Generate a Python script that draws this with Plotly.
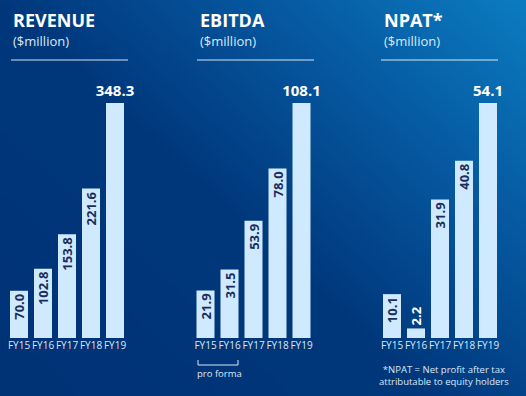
import base64, struct, zlib
import plotly.graph_objects as go

# ---------------- data ----------------
years = ["FY15", "FY16", "FY17", "FY18", "FY19"]
revenue = [70.0, 102.8, 153.8, 221.6, 348.3]
ebitda = [21.9, 31.5, 53.9, 78.0, 108.1]
npat = [10.1, 2.2, 31.9, 40.8, 54.1]
titles = ["REVENUE", "EBITDA", "NPAT*"]
unit_label = "($million)"
proforma_note = "pro forma"
npat_note = "*NPAT = Net profit after tax<br>attributable to equity holders"

W, H = 526, 396
FONT = "Open Sans"
BAR = "#cfeaff"
INTXT = "#1b2d5a"
LIGHT = "#dbe8f6"


def px(x):
    return x / W


def py(y):
    return 1 - y / H


# ---------------- gradient background image (decoration) ----------------
def make_bg(w=132, h=99):
    stops = [(0.0, (0, 50, 118)), (0.45, (1, 56, 124)), (0.72, (6, 88, 160)), (1.0, (12, 124, 192))]

    def col(t):
        for (a, ca), (b, cb) in zip(stops[:-1], stops[1:]):
            if t <= b:
                f = (t - a) / (b - a) if b > a else 0
                return tuple(int(ca[i] + (cb[i] - ca[i]) * f) for i in range(3))
        return stops[-1][1]

    raw = b""
    for j in range(h):
        row = b"\x00"
        for i in range(w):
            t = (i / (w - 1)) * 0.55 + (1 - j / (h - 1)) * 0.45
            row += bytes(col(max(0, min(1, t))))
        raw += row

    def chunk(tag, data):
        c = struct.pack(">I", len(data)) + tag + data
        return c + struct.pack(">I", zlib.crc32(tag + data) & 0xFFFFFFFF)

    png = b"\x89PNG\r\n\x1a\n" + chunk(b"IHDR", struct.pack(">IIBBBBB", w, h, 8, 2, 0, 0, 0))
    png += chunk(b"IDAT", zlib.compress(raw, 9)) + chunk(b"IEND", b"")
    return "data:image/png;base64," + base64.b64encode(png).decode()


fig = go.Figure()

panels = [revenue, ebitda, npat]
x_domains = [(7, 127), (193.5, 313.5), (380, 500)]
title_x = [11, 197.5, 381.5]
line_x = [(11, 128), (197, 314), (381, 498)]
y_dom = [py(338), py(103)]

for k, vals in enumerate(panels):
    ax = "" if k == 0 else str(k + 1)
    # all bars but the last: rotated labels
    fig.add_trace(go.Bar(
        x=years[:-1], y=vals[:-1], xaxis="x" + ax, yaxis="y" + ax,
        marker=dict(color=BAR, line=dict(width=0)),
        texttemplate="%{y:.1f}", textposition="auto", textangle=-90,
        insidetextanchor="end", constraintext="none",
        insidetextfont=dict(family=FONT, size=13, color=INTXT, weight="bold"),
        outsidetextfont=dict(family=FONT, size=13, color="white", weight="bold"),
        cliponaxis=False, hoverinfo="skip", showlegend=False,
    ))
    # last bar: horizontal label on top
    fig.add_trace(go.Bar(
        x=years[-1:], y=vals[-1:], xaxis="x" + ax, yaxis="y" + ax,
        marker=dict(color=BAR, line=dict(width=0)),
        texttemplate="%{y:.1f}", textposition="outside", textangle=0,
        constraintext="none",
        outsidetextfont=dict(family=FONT, size=15, color="white", weight="bold"),
        cliponaxis=False, hoverinfo="skip", showlegend=False,
    ))
    d0, d1 = x_domains[k]
    fig.update_layout({
        "xaxis" + ax: dict(domain=[px(d0), px(d1)], type="category", categoryorder="array",
                           categoryarray=years, range=[-0.5, 4.5], showgrid=False,
                           zeroline=False, showline=False, ticks="", tickangle=0,
                           automargin=False,
                           tickfont=dict(family=FONT, size=10, color=LIGHT),
                           anchor="y" + ax, fixedrange=True),
        "yaxis" + ax: dict(domain=y_dom, range=[0, max(vals)], visible=False,
                           anchor="x" + ax, fixedrange=True),
    })
    fig.add_annotation(xref="paper", yref="paper", x=px(title_x[k]), y=py(20),
                       xanchor="left", yanchor="middle", showarrow=False,
                       text="<b>" + titles[k] + "</b>",
                       font=dict(family=FONT, size=18, color="white"))
    fig.add_annotation(xref="paper", yref="paper", x=px(title_x[k]), y=py(41.5),
                       xanchor="left", yanchor="middle", showarrow=False,
                       text=unit_label, font=dict(family=FONT, size=13, color=LIGHT))
    fig.add_shape(type="line", xref="paper", yref="paper",
                  x0=px(line_x[k][0]), x1=px(line_x[k][1]), y0=py(60), y1=py(60),
                  line=dict(color="rgba(255,255,255,0.85)", width=1.2))

# pro forma bracket + text
fig.add_shape(type="path", xref="paper", yref="paper",
              path=f"M {px(198)},{py(360)} L {px(198)},{py(365)} L {px(238)},{py(365)} L {px(238)},{py(360)}",
              line=dict(color=LIGHT, width=1))
fig.add_annotation(xref="paper", yref="paper", x=px(219), y=py(373), showarrow=False,
                   xanchor="center", yanchor="middle", text=proforma_note,
                   font=dict(family=FONT, size=9.5, color=LIGHT))
fig.add_annotation(xref="paper", yref="paper", x=px(444), y=py(375.5), showarrow=False,
                   xanchor="center", yanchor="middle", text=npat_note, align="center",
                   font=dict(family=FONT, size=9.5, color=LIGHT))

fig.update_layout(
    width=W, height=H, margin=dict(l=0, r=0, t=0, b=0, autoexpand=False),
    paper_bgcolor="#003475", plot_bgcolor="rgba(0,0,0,0)",
    barmode="overlay", bargap=0.25,
    images=[dict(source=make_bg(), xref="paper", yref="paper", x=0, y=1,
                 sizex=1, sizey=1, sizing="stretch", layer="below", xanchor="left", yanchor="top")],
    font=dict(family=FONT),
)

fig.write_html("out.html", config={"displayModeBar": False},
               post_script="document.body.style.margin='0';document.body.style.overflow='hidden';")
